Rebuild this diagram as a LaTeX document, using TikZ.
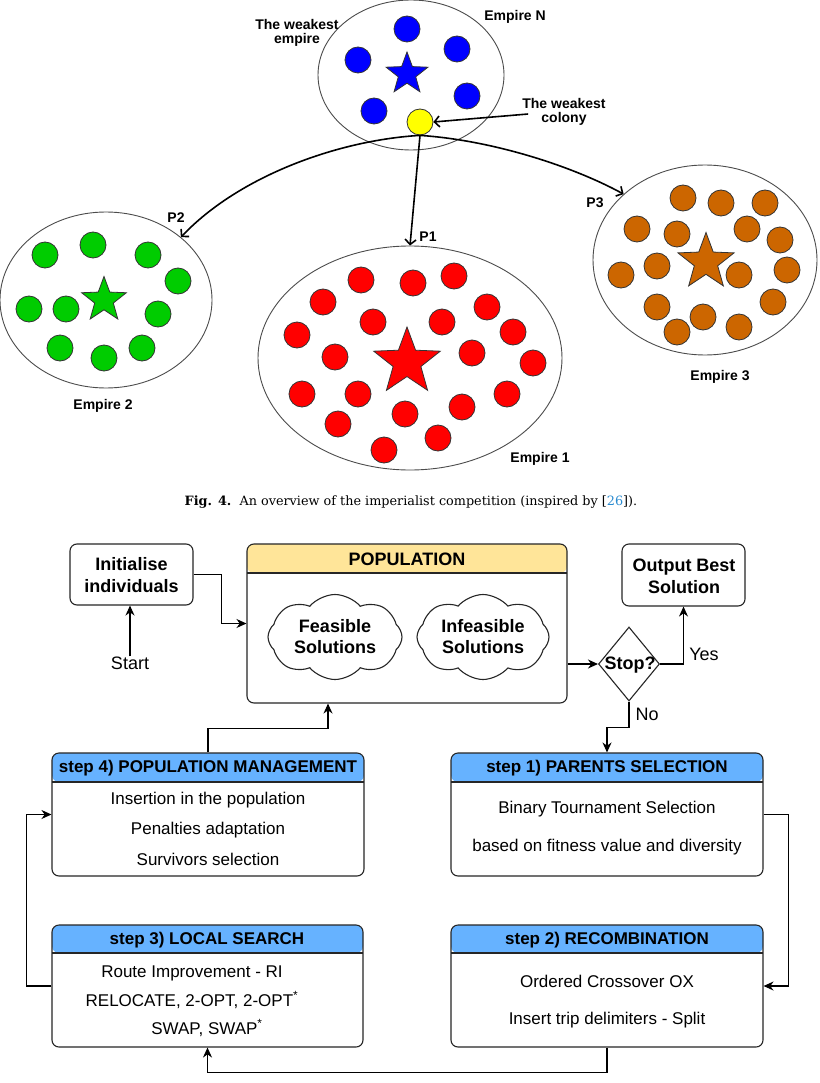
\documentclass[tikz,border=0pt]{standalone}
\usepackage{fontspec}
\setmainfont{Liberation Sans}
\newfontfamily\capfont{DejaVu Serif}
\usetikzlibrary{shapes.geometric,shapes.symbols,arrows.meta,calc}
\definecolor{blueC}{HTML}{0000FF}
\definecolor{greenC}{HTML}{00CC00}
\definecolor{redC}{HTML}{FF0000}
\definecolor{brownC}{HTML}{CC6600}
\definecolor{yellowC}{HTML}{FFFF00}
\definecolor{hdrY}{HTML}{FFE599}
\definecolor{hdrB}{HTML}{66B2FF}
\definecolor{citeC}{HTML}{2A8BD0}
\tikzset{hdrfill/.style 2 args={path picture={
  \fill[#1] (path picture bounding box.north west) rectangle ([yshift=-#2]path picture bounding box.north east);
  \draw[line width=1.1pt, draw=black!85] ([yshift=-#2]path picture bounding box.north west) -- ([yshift=-#2]path picture bounding box.north east);}}}
\begin{document}
\begin{tikzpicture}[x=1pt,y=-1pt,
  empire/.style={draw=black!70, line width=0.9pt, ellipse, inner sep=0},
  colony/.style={circle, draw=black!80, line width=0.8pt, minimum size=26pt, inner sep=0},
  imp/.style={star, star points=5, star point ratio=2.4, draw=black!80, line width=0.8pt, inner sep=0},
  tlab/.style={font=\fontsize{14}{16}\selectfont\bfseries, align=center, inner sep=0},
  tarr/.style={line width=1.6pt, -{Straight Barb[length=5pt,width=11pt]}},
  box/.style={draw=black!85, line width=1.1pt, rounded corners=7pt, inner sep=0},
  big/.style={font=\fontsize{18}{22}\selectfont\bfseries, align=center, inner sep=0},
  body/.style={font=\fontsize{17}{20}\selectfont, inner sep=0},
  ttl/.style={font=\fontsize{17}{20}\selectfont\bfseries, inner sep=0},
  arr/.style={line width=1.2pt, -{Stealth[length=10pt,width=9pt]}},
  lbl/.style={font=\fontsize{18}{20}\selectfont, inner sep=0},
  cld/.style={cloud, draw=black!85, line width=1.1pt, cloud puffs=8, cloud puff arc=100, aspect=1.6, inner sep=0},
]
\useasboundingbox[fill=white] (0,0) rectangle (819,1083);

% ---------------- Empires ----------------
\node[empire, minimum width=186pt, minimum height=150pt] (empN) at (411,75) {};
\node[empire, minimum width=212pt, minimum height=176pt] (emp2) at (106,300) {};
\node[empire, minimum width=304pt, minimum height=224pt] (emp1) at (410,358) {};
\node[empire, minimum width=224pt, minimum height=190pt] (emp3) at (705,260) {};

\foreach \p [count=\i] in {(407,29),(457,49),(358,60),(467,96),(374,111)}
  \node[colony, fill=blueC] (bN\i) at \p {};
\node[imp, fill=blueC, minimum size=44pt] (sN) at (407,74) {};
\node[colony, fill=yellowC] (wc) at (420,122) {};

\foreach \p [count=\i] in {(45,255),(93,245),(148,255),(178,281),(29,309),(66,309),(158,314),(60,348),(104,358),(142,348)}
  \node[colony, fill=greenC] (g\i) at \p {};
\node[imp, fill=greenC, minimum size=47pt] (s2star) at (104,300) {};

\foreach \p [count=\i] in {(361,280),(413,283),(454,276),(323,302),(373,322),(442,322),(487,307),(297,335),(335,357),(472,353),(513,332),(533,363),(302,394),(358,394),(405,414),(462,407),(507,394),(338,424),(384,450),(438,438)}
  \node[colony, fill=redC] (r\i) at \p {};
\node[imp, fill=redC, minimum size=70pt] (s1star) at (407,362) {};

\foreach \p [count=\i] in {(683,198),(721,203),(765,203),(637,229),(677,234),(747,229),(780,240),(657,266),(621,275),(739,275),(787,270),(657,307),(703,317),(677,332),(739,327),(773,302)}
  \node[colony, fill=brownC] (o\i) at \p {};
\node[imp, fill=brownC, minimum size=59pt] (s3star) at (706,262) {};

\node[tlab] (lweakemp) at (297,33) {The weakest\\[-2pt]empire};
\node[tlab] (lempN) at (515,17) {Empire N};
\node[tlab] (lweakcol) at (564,112) {The weakest\\[-2pt]colony};
\node[tlab] (lP2) at (176,218) {P2};
\node[tlab] (lP1) at (428,237) {P1};
\node[tlab] (lP3) at (595,203) {P3};
\node[tlab] (lemp2) at (103,406) {Empire 2};
\node[tlab] (lemp1) at (540,459) {Empire 1};
\node[tlab] (lemp3) at (720,377) {Empire 3};

\draw[tarr] ([xshift=6pt,yshift=-2pt]lweakcol.west) -- (wc.east);
\draw[tarr] (wc.south) .. controls (340,140) and (240,175) .. (emp2.40);
\draw[tarr] (wc.south) -- (emp1.north);
\draw[tarr] (wc.south) .. controls (490,140) and (570,165) .. (emp3.141);

% caption
\node[inner sep=0, font=\capfont\fontsize{12.8}{16}\selectfont] (cap) at (411,502)
  {\textbf{Fig. 4.}\ \ An overview of the imperialist competition (inspired by [\textcolor{citeC}{26}]).};

% ---------------- Flowchart ----------------
\node[box, minimum width=123pt, minimum height=61pt] (init) at (131.5,574.5) {};
\node[big] (initT) at (131.5,575) {Initialise\\individuals};
\node[lbl] (start) at (130,663) {Start};

\node[box, minimum width=123pt, minimum height=62pt] (out) at (683.5,575) {};
\node[big] (outT) at (684,576) {Output Best\\Solution};

\node[box, hdrfill={hdrY}{29pt}, minimum width=320pt, minimum height=159pt] (pop) at (407,623.5) {};
\node[big] (popT) at (407,559) {POPULATION};
\node[cld, minimum width=134pt, minimum height=85pt] (feas) at (335,637) {};
\node[big, font=\fontsize{18}{21}\selectfont\bfseries] (feasT) at (335,637) {Feasible\\Solutions};
\node[cld, minimum width=132pt, minimum height=85pt] (infeas) at (483,637) {};
\node[big, font=\fontsize{18}{21}\selectfont\bfseries] (infeasT) at (483,637) {Infeasible\\Solutions};

\node[diamond, draw=black!85, line width=1.1pt, minimum width=61pt, minimum height=74pt, inner sep=0] (stop) at (629,664) {};
\node[big] (stopT) at (630,665) {Stop?};
\node[lbl] (yes) at (704,654) {Yes};
\node[lbl] (no) at (647,714) {No};

\node[box, hdrfill={hdrB}{29pt}, minimum width=312pt, minimum height=123pt] (s4) at (208,814.5) {};
\node[ttl] (s4T) at (208,768) {step 4) POPULATION MANAGEMENT};
\node[body] (s4a) at (208,800) {Insertion in the population};
\node[body] (s4b) at (208,830) {Penalties adaptation};
\node[body] (s4c) at (208,859) {Survivors selection};

\node[box, hdrfill={hdrB}{29pt}, minimum width=312pt, minimum height=123pt] (s1) at (607,814.5) {};
\node[ttl] (s1T) at (607,768) {step 1) PARENTS SELECTION};
\node[body] (s1a) at (607,809) {Binary Tournament Selection};
\node[body] (s1b) at (607,847) {based on fitness value and diversity};

\node[box, hdrfill={hdrB}{28pt}, minimum width=312pt, minimum height=122pt] (s2) at (607,986) {};
\node[ttl] (s2T) at (607,940) {step 2) RECOMBINATION};
\node[body] (s2a) at (607,981) {Ordered Crossover OX};
\node[body] (s2b) at (607,1020) {Insert trip delimiters - Split};

\node[box, hdrfill={hdrB}{28pt}, minimum width=311pt, minimum height=122pt] (s3) at (207.5,986) {};
\node[ttl] (s3T) at (207,940) {step 3) LOCAL SEARCH};
\node[body] (s3a) at (192,973) {Route Improvement - RI};
\node[body] (s3b) at (192,1000) {RELOCATE, 2-OPT, 2-OPT\textsuperscript{*}};
\node[body] (s3c) at (207,1028) {SWAP, SWAP\textsuperscript{*}};

% connectors
\draw[arr] (start.north) -- (start.north |- init.south);
\draw[arr] (init.east) -- ++(28,0) |- (pop.west);
\draw[arr] (pop.east |- stop.west) -- (stop.west);
\draw[arr] (stop.east) -| (out.south);
\draw[arr] (stop.south) -- ++(0,26) -| (s1.north);
\draw[arr] (s1.east) -- ++(25,0) |- (s2.east);
\draw[arr] (s2.south) -- ++(0,25) -| (s3.south);
\draw[arr] (s3.west) -- ++(-25,0) |- (s4.west);
\draw[arr] (s4.north) -- ++(0,-24) -| ([xshift=-79pt]pop.south);
\end{tikzpicture}
\end{document}
